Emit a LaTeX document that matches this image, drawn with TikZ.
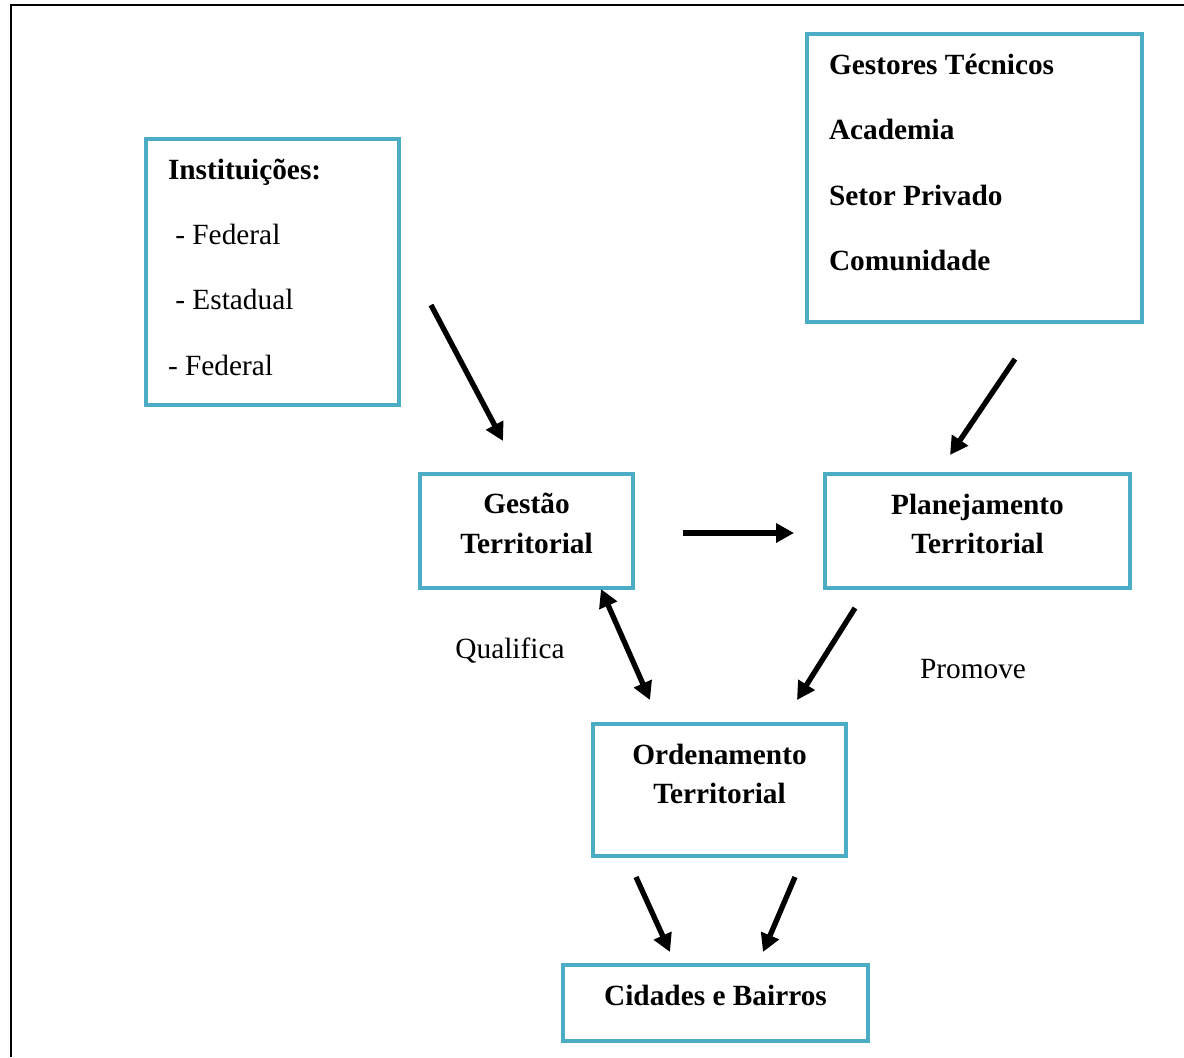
\documentclass[tikz,border=0pt]{standalone}
\usepackage{fontspec}
\setmainfont{Liberation Serif}
\usetikzlibrary{arrows.meta}
\definecolor{boxblue}{HTML}{4BACC6}
\begin{document}
\begin{tikzpicture}[x=0.75pt,y=-0.75pt,
  box/.style 2 args={draw=boxblue, line width=2.4pt, minimum width=#1, minimum height=#2, inner sep=0pt, outer sep=0pt},
  txt/.style={inner sep=0pt, outer sep=0pt, font=\fontsize{22}{26}\selectfont},
  btxt/.style={txt, font=\fontsize{22}{26}\selectfont\bfseries},
  arr/.style={line width=4pt, -{Triangle[length=13.5pt,width=14pt]}},
  darr/.style={line width=4pt, {Triangle[length=13.5pt,width=14pt]}-{Triangle[length=13.5pt,width=14pt]}}
]
\useasboundingbox (0,0) rectangle (1184,1057);
% outer frame
\draw[line width=2pt] (11,1057) -- (11,5) -- (1184,5);

% boxes
\node[box={189.75pt}{199.5pt}] (inst) at (272.5,272) {};
\node[box={251.25pt}{216pt}] (gest) at (974.5,178) {};
\node[box={159.75pt}{85.5pt}] (gt) at (526.5,531) {};
\node[box={228.75pt}{85.5pt}] (pt) at (977.5,531) {};
\node[box={189.75pt}{99pt}] (ot) at (719.5,790) {};
\node[box={228.75pt}{57pt}] (cb) at (715.5,1003) {};

% texts in Instituicoes
\node[btxt, anchor=base west] (i1) at (168,179) {Instituições:};
\node[txt, anchor=base west] (i2) at (168,244) {\ - Federal};
\node[txt, anchor=base west] (i3) at (168,309) {\ - Estadual};
\node[txt, anchor=base west] (i4) at (168,375) {- Federal};

% texts in Gestores
\node[btxt, anchor=base west] (g1) at (829,74) {Gestores Técnicos};
\node[btxt, anchor=base west] (g2) at (829,139) {Academia};
\node[btxt, anchor=base west] (g3) at (829,205) {Setor Privado};
\node[btxt, anchor=base west] (g4) at (829,270) {Comunidade};

% centered box texts
\node[btxt, anchor=base] (gt1) at (526.5,513) {Gestão};
\node[btxt, anchor=base] (gt2) at (526.5,553) {Territorial};
\node[btxt, anchor=base] (pt1) at (977.5,514) {Planejamento};
\node[btxt, anchor=base] (pt2) at (977.5,553) {Territorial};
\node[btxt, anchor=base] (ot1) at (719.5,764) {Ordenamento};
\node[btxt, anchor=base] (ot2) at (719.5,803) {Territorial};
\node[btxt, anchor=base] (cb1) at (715.5,1005) {Cidades e Bairros};

% free labels
\node[txt, anchor=base] (qual) at (510,658) {Qualifica};
\node[txt, anchor=base] (prom) at (973,678) {Promove};

% arrow end points
\coordinate (a1s) at (431,305); \coordinate (a1e) at (503,441);
\coordinate (a2s) at (1015,359); \coordinate (a2e) at (950,455);
\coordinate (a3s) at (683,533); \coordinate (a3e) at (794,533);
\coordinate (a4s) at (601,589); \coordinate (a4e) at (650,700);
\coordinate (a5s) at (855,608); \coordinate (a5e) at (797,700);
\coordinate (a6s) at (636,877); \coordinate (a6e) at (670,952);
\coordinate (a7s) at (795,877); \coordinate (a7e) at (763,952);

\draw[arr] (a1s) -- (a1e);
\draw[arr] (a2s) -- (a2e);
\draw[arr] (a3s) -- (a3e);
\draw[darr] (a4s) -- (a4e);
\draw[arr] (a5s) -- (a5e);
\draw[arr] (a6s) -- (a6e);
\draw[arr] (a7s) -- (a7e);
\end{tikzpicture}
\end{document}
